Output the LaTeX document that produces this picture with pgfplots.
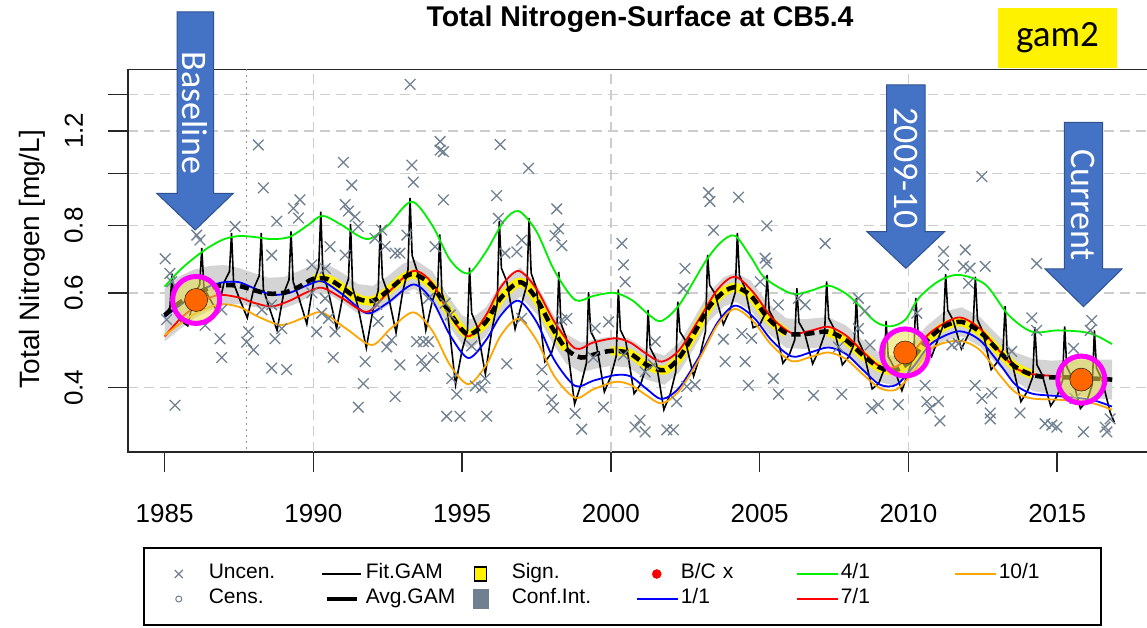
\documentclass[border=0pt]{standalone}
\usepackage{fontspec}
\setmainfont{Liberation Sans}
\newfontfamily\carl{Carlito}
\usepackage{pgfplots}
\usepackage{pgfplotstable}
\pgfplotsset{compat=1.18}
\definecolor{slate}{RGB}{112,128,144}
\definecolor{abl}{RGB}{68,114,196}
\definecolor{abledge}{RGB}{47,82,143}
\definecolor{gridc}{RGB}{205,205,205}
\definecolor{bandc}{RGB}{212,212,212}
\definecolor{Rgreen}{RGB}{0,238,0}
\definecolor{Rblue}{RGB}{0,0,255}
\definecolor{Rred}{RGB}{255,0,0}
\definecolor{Rorange}{RGB}{255,165,0}
\definecolor{dotor}{RGB}{255,102,0}
\definecolor{ringm}{RGB}{255,0,255}
\definecolor{discy}{RGB}{235,225,80}

% Avg.GAM (trend)
\pgfplotstableread{
x y
1985.0 0.545
1985.5 0.575
1986.0 0.597
1986.5 0.612
1987.0 0.620
1987.5 0.618
1988.0 0.607
1988.5 0.598
1989.0 0.600
1989.5 0.615
1990.0 0.637
1990.5 0.636
1991.0 0.612
1991.5 0.585
1992.0 0.580
1992.5 0.605
1993.0 0.638
1993.4 0.650
1994.0 0.618
1994.5 0.560
1995.0 0.512
1995.3 0.503
1995.8 0.530
1996.3 0.587
1996.95 0.628
1997.5 0.585
1998.0 0.520
1998.5 0.472
1999.0 0.455
1999.5 0.462
2000.0 0.468
2000.6 0.464
2001.2 0.441
2001.8 0.431
2002.3 0.455
2002.8 0.505
2003.3 0.565
2003.8 0.603
2004.2 0.614
2004.7 0.593
2005.3 0.537
2005.9 0.505
2006.5 0.503
2007.3 0.508
2007.9 0.490
2008.5 0.458
2009.0 0.437
2009.5 0.430
2010.0 0.445
2010.6 0.488
2011.2 0.520
2011.8 0.530
2012.4 0.508
2013.0 0.470
2013.6 0.437
2014.2 0.422
2014.8 0.418
2015.5 0.418
2016.2 0.416
2016.85 0.414
}\trend

% 4/1 (green)
\pgfplotstableread{
x y
1985.0 0.616
1985.5 0.660
1986.0 0.697
1986.5 0.730
1987.0 0.755
1987.5 0.765
1988.0 0.762
1988.6 0.755
1989.2 0.762
1989.8 0.800
1990.3 0.834
1990.9 0.805
1991.8 0.755
1992.5 0.800
1993.3 0.886
1994.0 0.800
1994.6 0.690
1995.2 0.652
1995.8 0.715
1996.4 0.815
1996.9 0.851
1997.5 0.780
1998.1 0.660
1998.8 0.582
1999.4 0.592
2000.1 0.600
2000.7 0.582
2001.3 0.545
2001.7 0.532
2002.3 0.570
2003.17 0.685
2003.7 0.745
2004.17 0.766
2004.7 0.700
2005.18 0.639
2006.08 0.598
2006.7 0.605
2007.31 0.619
2007.9 0.598
2008.32 0.570
2008.9 0.530
2009.4 0.520
2009.9 0.535
2010.34 0.586
2011.0 0.630
2011.68 0.648
2012.58 0.622
2013.36 0.546
2014.15 0.508
2015.0 0.511
2015.83 0.508
2016.3 0.500
2016.84 0.482
}\green

% 1/1 (blue)
\pgfplotstableread{
x y
1985.0 0.542
1985.5 0.568
1986.0 0.595
1986.5 0.617
1987.0 0.628
1987.5 0.628
1988.0 0.612
1988.6 0.595
1989.2 0.600
1989.8 0.620
1990.3 0.630
1991.0 0.595
1991.8 0.550
1992.5 0.575
1993.36 0.622
1994.0 0.580
1994.6 0.500
1995.21 0.454
1995.8 0.490
1996.3 0.545
1996.89 0.580
1997.5 0.530
1998.1 0.450
1998.8 0.403
1999.4 0.412
2000.14 0.422
2000.65 0.420
2001.2 0.398
2001.71 0.381
2002.3 0.400
2003.0 0.460
2003.6 0.530
2004.17 0.568
2004.8 0.540
2005.4 0.490
2006.08 0.457
2006.7 0.465
2007.31 0.475
2007.9 0.462
2008.5 0.430
2009.05 0.405
2009.6 0.405
2010.2 0.440
2010.79 0.484
2011.68 0.509
2012.4 0.490
2013.1 0.440
2013.6 0.405
2014.15 0.390
2015.0 0.386
2015.83 0.382
2016.3 0.378
2016.84 0.369
}\blue

% 7/1 (red)
\pgfplotstableread{
x y
1985.0 0.498
1985.5 0.535
1986.0 0.565
1986.5 0.587
1986.9 0.595
1987.5 0.588
1988.0 0.575
1988.6 0.566
1989.2 0.580
1989.8 0.602
1990.3 0.613
1991.0 0.585
1991.8 0.553
1992.5 0.600
1993.36 0.659
1994.0 0.625
1994.6 0.545
1995.21 0.498
1995.8 0.545
1996.3 0.615
1996.89 0.659
1997.5 0.610
1998.1 0.530
1998.8 0.473
1999.4 0.485
2000.14 0.494
2000.65 0.485
2001.2 0.462
2001.71 0.447
2002.3 0.470
2003.0 0.540
2003.6 0.610
2004.17 0.643
2004.8 0.600
2005.4 0.540
2006.08 0.505
2006.7 0.510
2007.31 0.519
2007.9 0.500
2008.5 0.465
2009.05 0.438
2009.6 0.438
2010.2 0.470
2010.79 0.509
2011.68 0.540
2012.4 0.515
2013.1 0.465
2013.6 0.435
2014.15 0.424
2015.0 0.420
2015.83 0.416
2016.3 0.415
2016.84 0.414
}\red

% 10/1 (orange)
\pgfplotstableread{
x y
1985.0 0.500
1985.5 0.525
1986.0 0.548
1986.8 0.571
1987.5 0.565
1988.2 0.540
1988.94 0.523
1989.7 0.540
1990.28 0.552
1991.1 0.515
1991.96 0.480
1992.6 0.515
1993.36 0.552
1994.0 0.510
1994.6 0.440
1995.21 0.406
1995.8 0.440
1996.3 0.500
1996.89 0.537
1997.5 0.490
1998.1 0.420
1998.8 0.383
1999.4 0.397
2000.14 0.410
2000.65 0.405
2001.2 0.387
2001.71 0.374
2002.3 0.395
2003.0 0.455
2003.6 0.525
2004.17 0.560
2004.8 0.530
2005.4 0.480
2006.08 0.448
2006.7 0.456
2007.31 0.465
2007.9 0.452
2008.5 0.422
2009.05 0.399
2009.6 0.397
2010.2 0.430
2010.79 0.474
2011.68 0.489
2012.4 0.470
2013.1 0.420
2013.6 0.392
2014.15 0.382
2015.0 0.380
2015.83 0.377
2016.3 0.373
2016.84 0.364
}\orange

% Fit.GAM (seasonal fit)
\pgfplotstableread{
x y
1985.00 0.542
1985.18 0.564
1985.25 0.651
1985.32 0.558
1985.50 0.535
1985.78 0.521
1986.00 0.595
1986.18 0.621
1986.25 0.727
1986.32 0.615
1986.50 0.587
1986.78 0.553
1987.00 0.628
1987.18 0.657
1987.25 0.775
1987.32 0.625
1987.50 0.588
1987.78 0.539
1988.00 0.612
1988.18 0.645
1988.25 0.775
1988.32 0.609
1988.50 0.567
1988.78 0.511
1989.00 0.598
1989.18 0.634
1989.25 0.780
1989.32 0.629
1989.50 0.591
1989.78 0.525
1990.00 0.624
1990.18 0.669
1990.25 0.849
1990.32 0.654
1990.50 0.605
1990.78 0.515
1991.00 0.595
1991.18 0.637
1991.25 0.806
1991.32 0.613
1991.50 0.565
1991.78 0.474
1992.00 0.557
1992.18 0.606
1992.25 0.801
1992.32 0.640
1992.50 0.600
1992.78 0.506
1993.00 0.602
1993.18 0.662
1993.25 0.900
1993.32 0.704
1993.50 0.655
1993.78 0.511
1994.00 0.580
1994.18 0.618
1994.25 0.770
1994.32 0.600
1994.50 0.558
1994.78 0.405
1995.00 0.470
1995.18 0.510
1995.25 0.668
1995.32 0.550
1995.50 0.520
1995.78 0.424
1996.00 0.512
1996.18 0.573
1996.25 0.816
1996.32 0.667
1996.50 0.630
1996.78 0.514
1997.00 0.572
1997.18 0.623
1997.25 0.826
1997.32 0.653
1997.50 0.610
1997.78 0.447
1998.00 0.463
1998.18 0.502
1998.25 0.656
1998.32 0.527
1998.50 0.495
1998.78 0.373
1999.00 0.406
1999.18 0.445
1999.25 0.602
1999.32 0.509
1999.50 0.486
1999.78 0.393
2000.00 0.420
2000.18 0.458
2000.25 0.609
2000.32 0.512
2000.50 0.488
2000.78 0.390
2001.00 0.406
2001.18 0.436
2001.25 0.558
2001.32 0.474
2001.50 0.453
2001.78 0.364
2002.00 0.390
2002.18 0.428
2002.25 0.578
2002.32 0.508
2002.50 0.490
2002.78 0.420
2003.00 0.460
2003.18 0.509
2003.25 0.706
2003.32 0.620
2003.50 0.598
2003.78 0.524
2004.00 0.557
2004.18 0.601
2004.25 0.775
2004.32 0.646
2004.50 0.614
2004.78 0.517
2005.00 0.523
2005.18 0.548
2005.25 0.648
2005.32 0.556
2005.50 0.533
2005.78 0.444
2006.00 0.461
2006.18 0.491
2006.25 0.612
2006.32 0.529
2006.50 0.508
2006.78 0.443
2007.00 0.470
2007.18 0.502
2007.25 0.630
2007.32 0.538
2007.50 0.515
2007.78 0.441
2008.00 0.457
2008.18 0.483
2008.25 0.587
2008.32 0.489
2008.50 0.465
2008.78 0.398
2009.00 0.407
2009.18 0.432
2009.25 0.532
2009.32 0.457
2009.50 0.438
2009.78 0.395
2010.00 0.428
2010.18 0.460
2010.25 0.587
2010.32 0.509
2010.50 0.490
2010.78 0.457
2011.00 0.493
2011.18 0.524
2011.25 0.650
2011.32 0.557
2011.50 0.534
2011.78 0.472
2012.00 0.500
2012.18 0.529
2012.25 0.643
2012.32 0.535
2012.50 0.508
2012.78 0.432
2013.00 0.447
2013.18 0.471
2013.25 0.567
2013.32 0.466
2013.50 0.441
2013.78 0.377
2014.00 0.394
2014.18 0.419
2014.25 0.518
2014.32 0.441
2014.50 0.422
2014.78 0.370
2015.00 0.386
2015.18 0.413
2015.25 0.520
2015.32 0.438
2015.50 0.418
2015.78 0.366
2016.00 0.378
2016.18 0.405
2016.25 0.511
2016.32 0.435
2016.50 0.415
2016.78 0.360
2016.92 0.345
}\fitgam

% Uncensored observations
\pgfplotstableread{
x y
1988.15 1.129
1991.01 1.048
1991.29 0.951
1988.32 0.940
1989.55 0.893
1989.33 0.861
1989.50 0.826
1991.07 0.875
1991.18 0.851
1991.40 0.831
1988.77 0.815
1987.37 0.797
1991.51 0.797
1986.08 0.768
1986.19 0.752
1985.02 0.694
1985.18 0.652
1990.56 0.731
1988.60 0.705
1989.95 0.676
1990.40 0.666
1985.24 0.629
1988.60 0.570
1988.27 0.558
1986.92 0.558
1986.36 0.522
1986.86 0.493
1987.82 0.508
1987.76 0.486
1987.99 0.470
1986.92 0.455
1988.60 0.435
1989.10 0.432
1988.71 0.493
1988.94 0.515
1990.11 0.508
1990.51 0.538
1990.73 0.508
1990.67 0.455
1991.74 0.447
1991.68 0.407
1991.51 0.368
1985.35 0.371
1985.07 0.535
1989.95 0.600
1990.40 0.586
1990.28 0.550
1991.07 0.705
1993.25 1.463
1994.26 1.146
1994.26 1.104
1994.37 1.097
1993.31 1.036
1993.36 0.963
1996.28 1.131
1997.23 1.022
1994.37 0.893
1996.16 0.909
1996.22 0.825
1998.18 0.859
1998.24 0.789
1998.12 0.766
1998.35 0.734
1992.30 0.785
1992.07 0.758
1992.41 0.732
1993.14 0.768
1992.75 0.711
1992.91 0.711
1994.09 0.731
1996.44 0.711
1997.00 0.752
1996.84 0.715
1992.13 0.571
1992.18 0.531
1992.63 0.490
1992.47 0.476
1993.47 0.487
1993.70 0.487
1993.87 0.487
1993.64 0.450
1993.75 0.438
1992.91 0.441
1992.75 0.385
1994.03 0.455
1994.48 0.354
1994.93 0.354
1995.83 0.354
1994.65 0.416
1994.82 0.389
1995.44 0.403
1995.66 0.400
1995.77 0.416
1995.32 0.478
1996.50 0.443
1997.68 0.432
1997.73 0.403
1998.01 0.380
1998.07 0.367
1998.80 0.358
1999.02 0.335
1999.75 0.368
1994.43 0.574
1994.60 0.546
1993.87 0.586
1998.35 0.534
1998.52 0.538
2000.37 0.741
2000.42 0.676
2000.48 0.629
1997.00 0.538
1999.47 0.516
1999.92 0.530
2000.42 0.460
1999.41 0.455
2003.28 0.921
2003.33 0.887
2004.29 0.903
2003.45 0.784
2005.24 0.799
2007.20 0.741
2002.49 0.666
2002.44 0.611
2005.18 0.696
2005.24 0.681
2005.02 0.629
2005.63 0.570
2006.30 0.586
2006.53 0.570
2008.32 0.586
2008.54 0.555
2003.78 0.492
2003.84 0.447
2004.51 0.447
2004.40 0.504
2004.73 0.494
2004.62 0.404
2005.46 0.416
2005.63 0.389
2006.81 0.387
2007.76 0.389
2002.55 0.402
2002.83 0.405
2002.21 0.377
2000.98 0.348
2001.15 0.331
2000.81 0.338
2001.88 0.334
2002.10 0.334
2008.77 0.366
2007.65 0.476
2001.15 0.428
2001.43 0.441
2001.49 0.487
2008.32 0.515
2008.71 0.480
2012.47 0.986
2011.18 0.716
2011.91 0.721
2011.18 0.676
2011.85 0.672
2012.07 0.667
2012.58 0.672
2014.31 0.680
2012.02 0.625
2014.15 0.539
2014.31 0.511
2016.16 0.533
2016.11 0.511
2015.55 0.473
2010.56 0.404
2009.66 0.372
2010.62 0.377
2010.73 0.366
2011.01 0.377
2011.06 0.347
2012.24 0.404
2012.47 0.382
2012.75 0.359
2012.80 0.391
2012.75 0.350
2013.75 0.359
2014.59 0.343
2014.82 0.341
2014.99 0.338
2015.88 0.331
2016.61 0.338
2016.78 0.350
2016.67 0.331
2015.60 0.382
2008.99 0.372
2013.47 0.467
2010.28 0.550
2011.46 0.480
2011.68 0.483
}\obs

\begin{document}
\begin{tikzpicture}[x=1pt,y=1pt]
\useasboundingbox (0,0) rectangle (1147,627);
\begin{axis}[
  at={(128pt,175pt)}, anchor=south west,
  scale only axis, width=1022pt, height=382.5pt,
  xmin=1983.77, xmax=2018.12,
  ymode=log, ymin=0.3038, ymax=1.559,
  enlargelimits=false,
  axis line style={line width=1.6pt, black!85},
  xtick={1985,1990,1995,2000,2005,2010,2015},
  xticklabels={1985,1990,1995,2000,2005,2010,2015},
  ytick={0.4,0.6,0.8,1.0,1.2,1.4},
  yticklabels={0.4,0.6,0.8,,1.2,},
  yminorticks=false,
  xtick pos=left, ytick pos=left,
  tick align=outside, major tick length=20pt,
  tick style={line width=1.6pt, black!85},
  tick label style={font=\fontsize{26}{30}\selectfont, inner sep=0pt},
  xticklabel style={anchor=north, yshift=-32pt},
  yticklabel style={xshift=-25pt, rotate=90, anchor=south},
  ymajorgrids,
  major grid style={gridc, line width=1.6pt, dash pattern=on 10pt off 6pt},
  extra x ticks={1990,2000,2010},
  extra x tick labels={},
  extra x tick style={grid=major, major tick length=0pt},
  title={Total Nitrogen-Surface at CB5.4},
  title style={at={(axis description cs:0.501,1.097)}, anchor=base, font=\bfseries\fontsize{28.5}{32}\selectfont},
  ylabel={Total Nitrogen [mg/L]},
  ylabel style={at={(axis description cs:-0.087,0.5046)}, anchor=base, font=\fontsize{28}{32}\selectfont},
  legend columns=2, transpose legend,
  legend cell align=left,
  legend style={
    at={(axis description cs:0.0147,-0.249)}, anchor=north west,
    draw=black, line width=1.5pt, fill=white,
    inner xsep=19pt, inner ysep=13.5pt,
    nodes={inner xsep=0pt, inner ysep=2.5pt, text height=15pt, text depth=5pt, font=\fontsize{21}{25}\selectfont},
    /tikz/every odd column/.style={column sep=2pt},
    /tikz/every even column/.style={column sep=3pt},
  },
]
% confidence band
\addplot[fill=bandc, draw=none, forget plot] coordinates {
(1985.0,0.610)(1985.5,0.644)(1986.0,0.663)(1986.5,0.673)(1987.0,0.676)(1987.5,0.667)(1988.0,0.653)(1988.5,0.640)(1989.0,0.642)(1989.5,0.658)(1990.0,0.678)(1990.5,0.677)(1991.0,0.652)(1991.5,0.623)(1992.0,0.618)(1992.5,0.644)(1993.0,0.679)(1993.4,0.692)(1994.0,0.658)(1994.5,0.596)(1995.0,0.545)(1995.3,0.536)(1995.8,0.564)(1996.3,0.625)(1996.95,0.669)(1997.5,0.623)(1998.0,0.554)(1998.5,0.503)(1999.0,0.485)(1999.5,0.492)(2000.0,0.498)(2000.6,0.494)(2001.2,0.470)(2001.8,0.459)(2002.3,0.485)(2002.8,0.538)(2003.3,0.602)(2003.8,0.642)(2004.2,0.654)(2004.7,0.632)(2005.3,0.572)(2005.9,0.538)(2006.5,0.536)(2007.3,0.541)(2007.9,0.522)(2008.5,0.488)(2009.0,0.465)(2009.5,0.458)(2010.0,0.474)(2010.6,0.520)(2011.2,0.554)(2011.8,0.564)(2012.4,0.541)(2013.0,0.501)(2013.6,0.465)(2014.2,0.452)(2014.8,0.449)(2015.5,0.451)(2016.2,0.451)(2016.85,0.451)
(2016.85,0.380)(2016.2,0.383)(2015.5,0.387)(2014.8,0.389)(2014.2,0.394)(2013.6,0.410)(2013.0,0.441)(2012.4,0.477)(2011.8,0.498)(2011.2,0.488)(2010.6,0.458)(2010.0,0.418)(2009.5,0.404)(2009.0,0.410)(2008.5,0.430)(2007.9,0.460)(2007.3,0.477)(2006.5,0.472)(2005.9,0.474)(2005.3,0.504)(2004.7,0.557)(2004.2,0.577)(2003.8,0.566)(2003.3,0.531)(2002.8,0.474)(2002.3,0.427)(2001.8,0.405)(2001.2,0.414)(2000.6,0.436)(2000.0,0.439)(1999.5,0.434)(1999.0,0.427)(1998.5,0.443)(1998.0,0.488)(1997.5,0.549)(1996.95,0.590)(1996.3,0.551)(1995.8,0.498)(1995.3,0.472)(1995.0,0.481)(1994.5,0.526)(1994.0,0.580)(1993.4,0.610)(1993.0,0.599)(1992.5,0.568)(1992.0,0.545)(1991.5,0.549)(1991.0,0.575)(1990.5,0.597)(1990.0,0.598)(1989.5,0.575)(1989.0,0.561)(1988.5,0.559)(1988.0,0.565)(1987.5,0.572)(1987.0,0.569)(1986.5,0.556)(1986.0,0.538)(1985.5,0.513)(1985.0,0.487)
} --cycle;
% reference line
\addplot[gray!85, line width=1.4pt, dash pattern=on 2pt off 4pt, forget plot] coordinates {(1987.76,0.30)(1987.76,1.6)};
% observations
\addplot[only marks, mark=x, mark size=7.5pt, mark options={slate, line width=1.3pt}, forget plot] table {\obs};
% significance
\addplot[yellow, line width=9pt, smooth, restrict x to domain=1989.6:1998.8, forget plot] table {\trend};
\addplot[yellow, line width=9pt, smooth, restrict x to domain=1999.9:2006.0, forget plot] table {\trend};
\addplot[yellow, line width=9pt, smooth, restrict x to domain=2007.2:2014.2, forget plot] table {\trend};
% Fit.GAM
\addplot[black, line width=1.6pt, forget plot] table {\fitgam};
% day-of-year curves
\addplot[Rgreen, line width=1.8pt, smooth, forget plot] table {\green};
\addplot[Rblue, line width=1.8pt, smooth, forget plot] table {\blue};
\addplot[Rred, line width=1.8pt, smooth, forget plot] table {\red};
\addplot[Rorange, line width=1.8pt, smooth, forget plot] table {\orange};
% Avg.GAM
\addplot[black, line width=4.5pt, dash pattern=on 9pt off 5pt, smooth, forget plot] table {\trend};
% highlighted periods
\addplot[only marks, mark=*, mark size=23.5pt, mark options={fill=discy, fill opacity=0.55, draw=ringm, draw opacity=1, line width=5pt}, forget plot] coordinates {(1986.06,0.582)(2009.89,0.465)(2015.81,0.414)};
\addplot[only marks, mark=*, mark size=11.5pt, mark options={fill=dotor, draw=none}, forget plot] coordinates {(1986.06,0.582)(2009.89,0.465)(2015.81,0.414)};

% legend
\addlegendimage{legend image code/.code={\path[draw=none,fill=none] (0pt,-9pt) rectangle (44pt,9pt); \draw[slate, line width=1.2pt] (12pt,-4pt) -- (20pt,4pt) (12pt,4pt) -- (20pt,-4pt);}}
\addlegendentry[text width=108pt]{Uncen.}
\addlegendimage{legend image code/.code={\path[draw=none,fill=none] (0pt,-9pt) rectangle (44pt,9pt); \draw[slate, line width=1pt, fill=none] (16pt,0pt) circle (3pt);}}
\addlegendentry[text width=108pt]{Cens.}
\addlegendimage{legend image code/.code={\path[draw=none,fill=none] (0pt,-9pt) rectangle (44pt,9pt); \draw[black, line width=1.6pt] (2pt,0pt) -- (41pt,0pt);}}
\addlegendentry[text width=97pt]{Fit.GAM}
\addlegendimage{legend image code/.code={\path[draw=none,fill=none] (0pt,-9pt) rectangle (44pt,9pt); \draw[black, line width=4.5pt] (7pt,0pt) -- (37pt,0pt);}}
\addlegendentry[text width=97pt]{Avg.GAM}
\addlegendimage{legend image code/.code={\path[draw=none,fill=none] (0pt,-9pt) rectangle (44pt,9pt); \filldraw[fill=yellow, draw=black, line width=1.4pt] (9pt,-7pt) rectangle (21pt,7pt);}}
\addlegendentry[text width=120pt]{Sign.}
\addlegendimage{legend image code/.code={\path[draw=none,fill=none] (0pt,-9pt) rectangle (44pt,9pt); \fill[slate] (8pt,-9pt) rectangle (22pt,9pt);}}
\addlegendentry[text width=120pt]{Conf.Int.}
\addlegendimage{legend image code/.code={\path[draw=none,fill=none] (0pt,-9pt) rectangle (44pt,9pt); \fill[red] (22pt,0pt) circle (4pt);}}
\addlegendentry[text width=111pt]{B/C x}
\addlegendimage{legend image code/.code={\path[draw=none,fill=none] (0pt,-9pt) rectangle (44pt,9pt); \draw[Rblue, line width=1.8pt] (2pt,0pt) -- (43pt,0pt);}}
\addlegendentry[text width=111pt]{1/1}
\addlegendimage{legend image code/.code={\path[draw=none,fill=none] (0pt,-9pt) rectangle (44pt,9pt); \draw[Rgreen, line width=1.8pt] (2pt,0pt) -- (43pt,0pt);}}
\addlegendentry[text width=109pt]{4/1}
\addlegendimage{legend image code/.code={\path[draw=none,fill=none] (0pt,-9pt) rectangle (44pt,9pt); \draw[Rred, line width=1.8pt] (2pt,0pt) -- (43pt,0pt);}}
\addlegendentry[text width=109pt]{7/1}
\addlegendimage{legend image code/.code={\path[draw=none,fill=none] (0pt,-9pt) rectangle (44pt,9pt); \draw[Rorange, line width=1.8pt] (2pt,0pt) -- (43pt,0pt);}}
\addlegendentry[text width=83pt]{10/1}
\addlegendimage{legend image code/.code={\path[draw=none,fill=none] (0pt,-9pt) rectangle (44pt,9pt);}}
\addlegendentry[text width=83pt]{}
\end{axis}

% annotation arrows
\filldraw[fill=abl, draw=abledge, line width=1pt] (177,615) -- (213.5,615) -- (213.5,433.7) -- (233.3,433.7) -- (195.2,397) -- (156.7,433.7) -- (177,433.7) -- cycle;
\node[rotate=-90, text=white, font=\carl\fontsize{36}{40}\selectfont] at (195.2,514) {Baseline};
\filldraw[fill=abl, draw=abledge, line width=1pt] (886.7,542) -- (925,542) -- (925,395.3) -- (944.5,395.3) -- (905.8,358.7) -- (867,395.3) -- (886.7,395.3) -- cycle;
\node[rotate=-90, text=white, font=\carl\fontsize{36}{40}\selectfont] at (905.8,459) {2009-10};
\filldraw[fill=abl, draw=abledge, line width=1pt] (1064.3,504.7) -- (1102.7,504.7) -- (1102.7,358) -- (1122,358) -- (1083.5,320.3) -- (1045,358) -- (1064.3,358) -- cycle;
\node[rotate=-90, text=white, font=\carl\fontsize{36}{40}\selectfont] at (1083.5,422) {Current};
% label box
\fill[yellow] (998,559) rectangle (1117,619);
\node[font=\carl\fontsize{37}{40}\selectfont] at (1057.5,589) {gam2};
\end{tikzpicture}
\end{document}
